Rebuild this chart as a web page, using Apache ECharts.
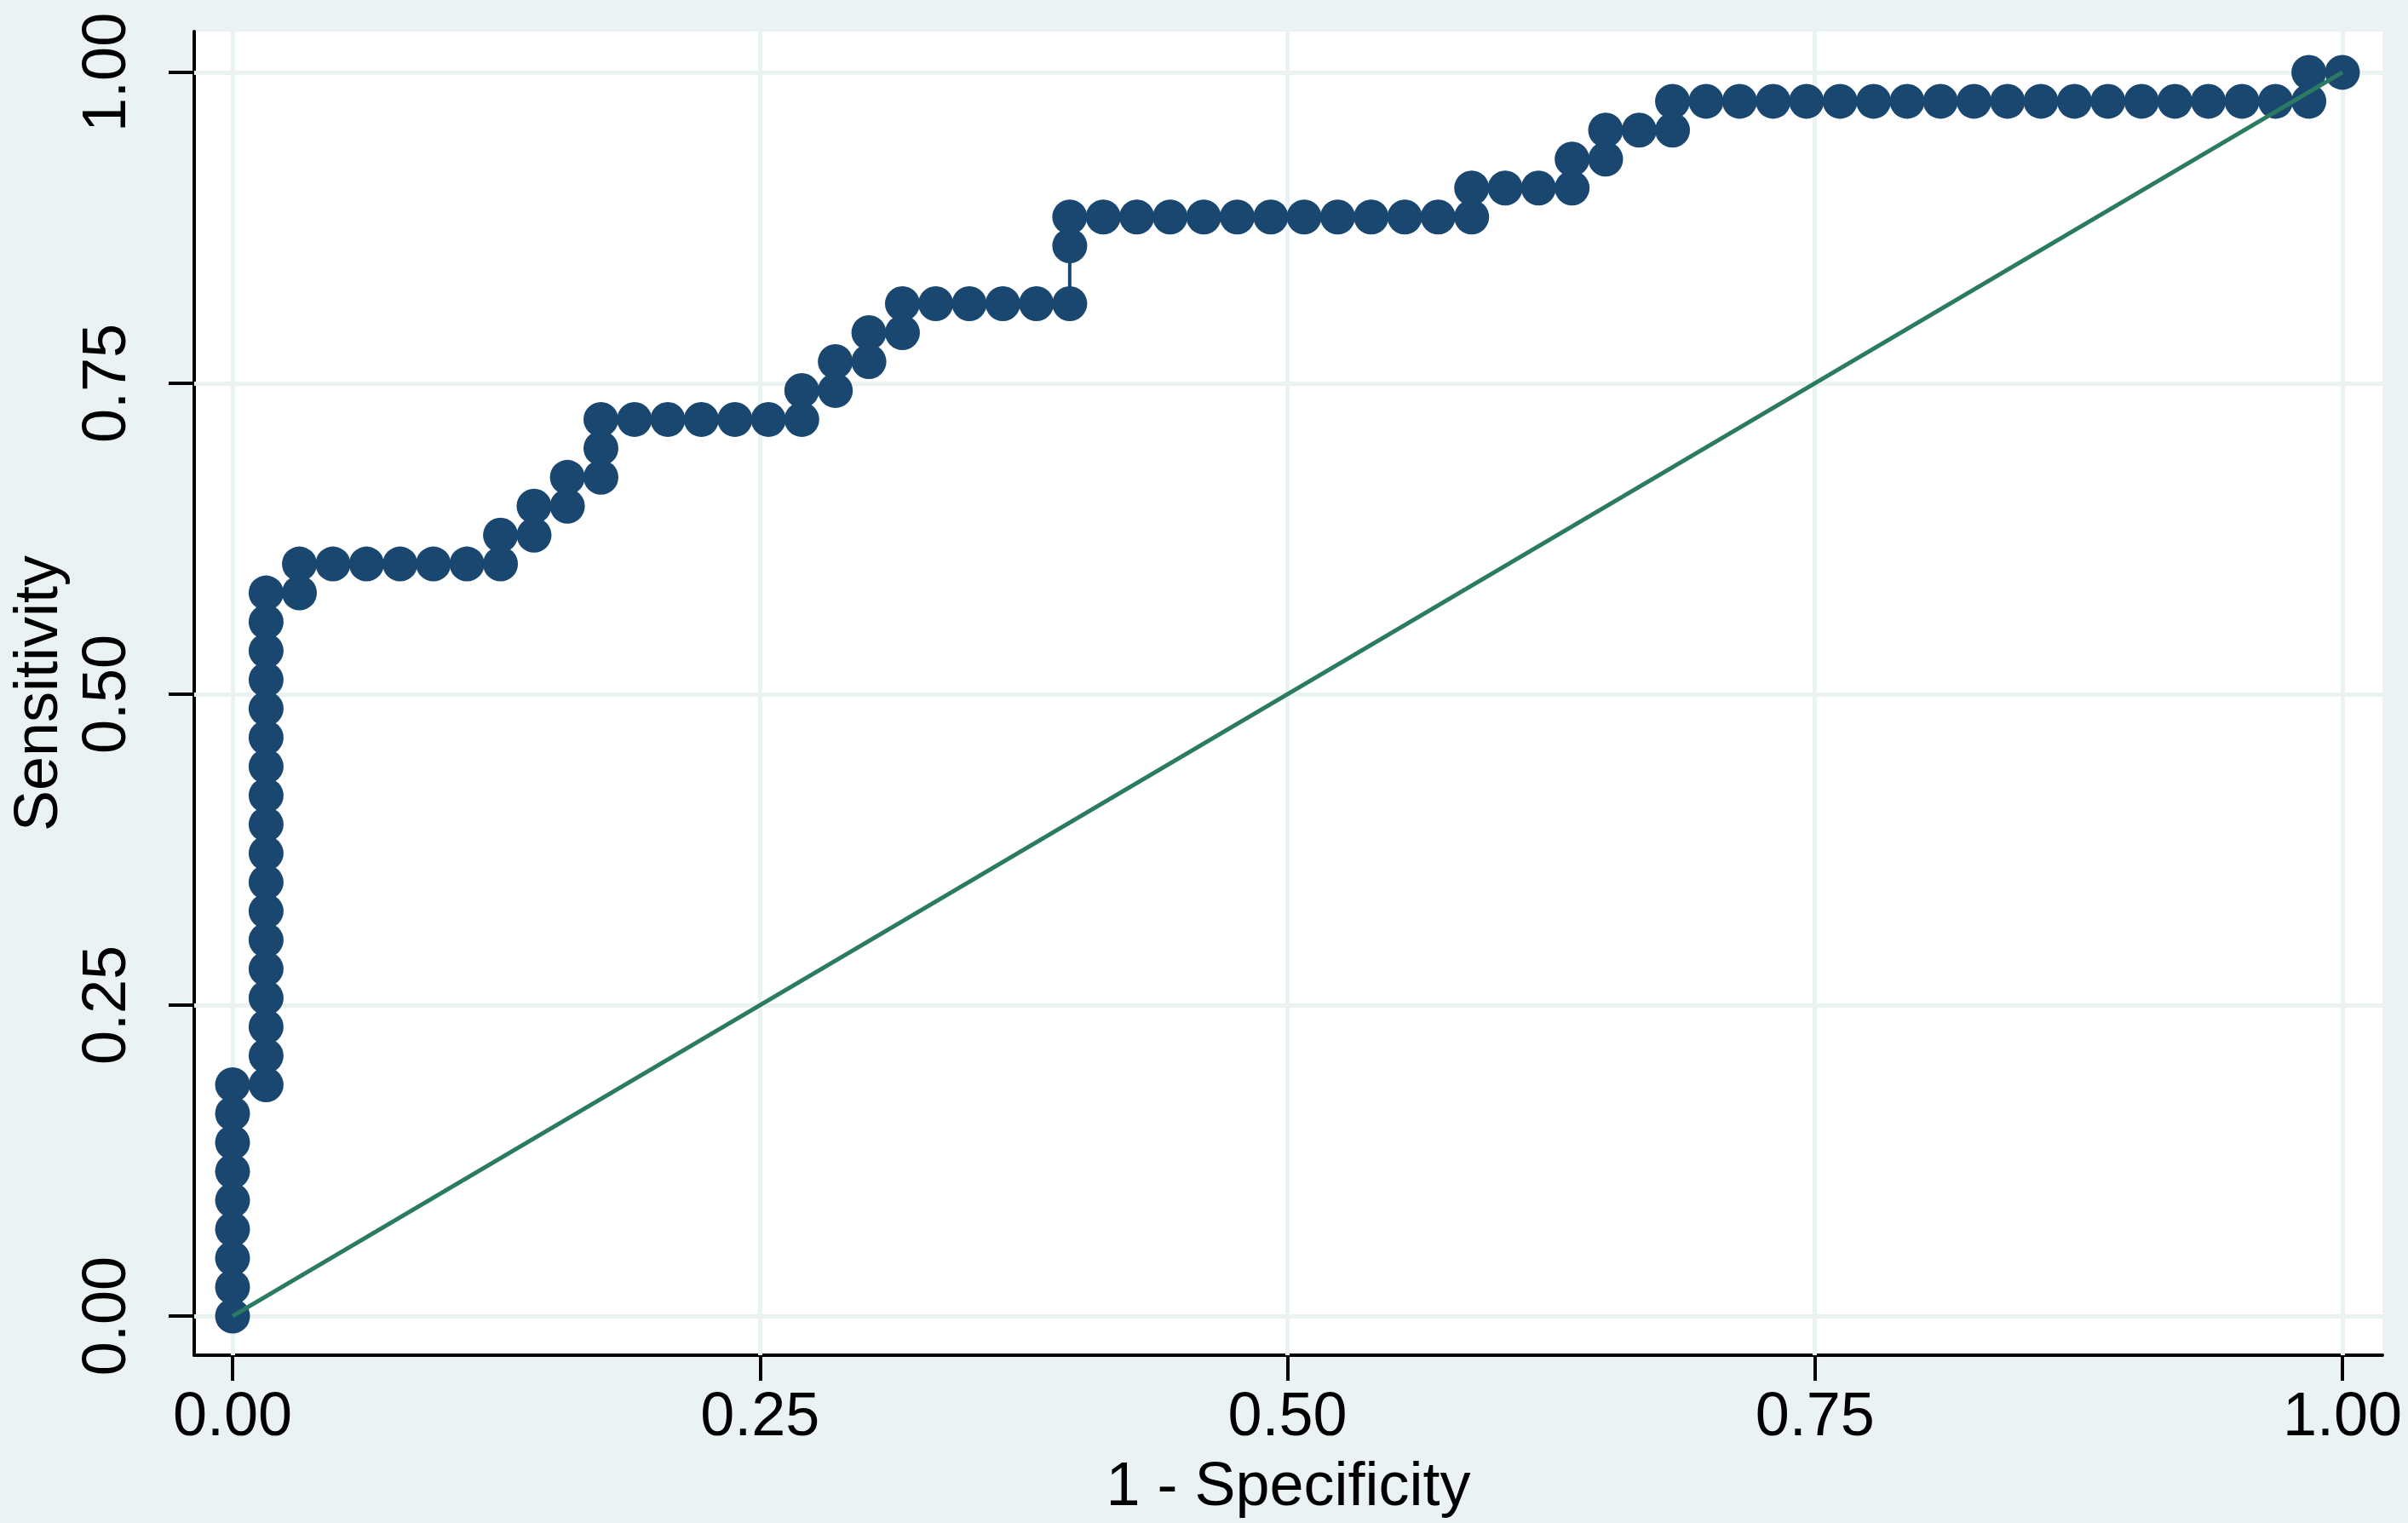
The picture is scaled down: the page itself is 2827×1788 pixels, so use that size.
<!DOCTYPE html>
<html>
<head>
<meta charset="utf-8">
<script src="https://cdn.jsdelivr.net/npm/echarts@6/dist/echarts.min.js"></script>
<style>
  html, body { margin: 0; padding: 0; background: #eaf2f3; }
  #chart { width: 2827px; height: 1788px; }
</style>
</head>
<body>
<div id="chart"></div>
<script>
// 1 - Specificity for each ROC point
const oneMinusSpec = [
  0, 0, 0, 0, 0, 0, 0, 0, 0,
  0.0159, 0.0159, 0.0159, 0.0159, 0.0159, 0.0159, 0.0159, 0.0159, 0.0159,
  0.0159, 0.0159, 0.0159, 0.0159, 0.0159, 0.0159, 0.0159, 0.0159, 0.0159,
  0.0317, 0.0317,
  0.0476, 0.0635, 0.0794, 0.0952, 0.1111,
  0.1270, 0.1270,
  0.1429, 0.1429,
  0.1587, 0.1587,
  0.1746, 0.1746, 0.1746,
  0.1905, 0.2063, 0.2222, 0.2381, 0.2540,
  0.2698, 0.2698,
  0.2857, 0.2857,
  0.3016, 0.3016,
  0.3175, 0.3175,
  0.3333, 0.3492, 0.3651, 0.3810,
  0.3968, 0.3968, 0.3968,
  0.4127, 0.4286, 0.4444, 0.4603, 0.4762, 0.4921, 0.5079, 0.5238, 0.5397, 0.5556, 0.5714,
  0.5873, 0.5873,
  0.6032, 0.6190,
  0.6349, 0.6349,
  0.6508, 0.6508,
  0.6667,
  0.6825, 0.6825,
  0.6984, 0.7143, 0.7302, 0.7460, 0.7619, 0.7778, 0.7937, 0.8095, 0.8254,
  0.8413, 0.8571, 0.8730, 0.8889, 0.9048, 0.9206, 0.9365, 0.9524, 0.9683,
  0.9841, 0.9841,
  1
];
// Sensitivity for each ROC point
const sensitivity = [
  0, 0.0233, 0.0465, 0.0698, 0.0930, 0.1163, 0.1395, 0.1628, 0.1860,
  0.1860, 0.2093, 0.2326, 0.2558, 0.2791, 0.3023, 0.3256, 0.3488, 0.3721,
  0.3953, 0.4186, 0.4419, 0.4651, 0.4884, 0.5116, 0.5349, 0.5581, 0.5814,
  0.5814, 0.6047,
  0.6047, 0.6047, 0.6047, 0.6047, 0.6047,
  0.6047, 0.6279,
  0.6279, 0.6512,
  0.6512, 0.6744,
  0.6744, 0.6977, 0.7209,
  0.7209, 0.7209, 0.7209, 0.7209, 0.7209,
  0.7209, 0.7442,
  0.7442, 0.7674,
  0.7674, 0.7907,
  0.7907, 0.8140,
  0.8140, 0.8140, 0.8140, 0.8140,
  0.8140, 0.8605, 0.8837,
  0.8837, 0.8837, 0.8837, 0.8837, 0.8837, 0.8837, 0.8837, 0.8837, 0.8837, 0.8837, 0.8837,
  0.8837, 0.9070,
  0.9070, 0.9070,
  0.9070, 0.9302,
  0.9302, 0.9535,
  0.9535,
  0.9535, 0.9767,
  0.9767, 0.9767, 0.9767, 0.9767, 0.9767, 0.9767, 0.9767, 0.9767, 0.9767,
  0.9767, 0.9767, 0.9767, 0.9767, 0.9767, 0.9767, 0.9767, 0.9767, 0.9767,
  0.9767, 1,
  1
];
// Reference (chance) line
const refX = [0, 1];
const refY = [0, 1];
// Tick values / labels
const tickValues = [0, 0.25, 0.5, 0.75, 1];
const tickLabels = ['0.00', '0.25', '0.50', '0.75', '1.00'];
const xTitle = '1 - Specificity';
const yTitle = 'Sensitivity';

const FONT = '"Liberation Sans", Arial, Helvetica, sans-serif';
const NAVY = '#1a476f';
const GREEN = '#2b7a62';
const GRID = '#eaf2f2';

const labelFmt = v => {
  const i = tickValues.findIndex(t => Math.abs(t - v) < 1e-9);
  return i >= 0 ? tickLabels[i] : '';
};

const chart = echarts.init(document.getElementById('chart'), null, { renderer: 'canvas' });
chart.setOption({
  animation: false,
  backgroundColor: '#eaf2f3',
  grid: {
    left: 228, right: 30, top: 37, bottom: 195,
    show: true, backgroundColor: '#ffffff', borderWidth: 0
  },
  xAxis: {
    type: 'value',
    min: -0.01817, max: 1.01898,
    name: xTitle, nameLocation: 'middle', nameGap: 120,
    nameTextStyle: { fontFamily: FONT, fontSize: 72, color: '#000' },
    axisLine: { onZero: false, lineStyle: { color: '#000', width: 4 } },
    axisTick: { customValues: tickValues, length: 30, lineStyle: { color: '#000', width: 4 } },
    axisLabel: { customValues: tickValues, formatter: labelFmt, fontFamily: FONT, fontSize: 72, color: '#000', margin: 38 },
    splitLine: { show: false }
  },
  yAxis: {
    type: 'value',
    min: -0.03146, max: 1.0328,
    name: yTitle, nameLocation: 'middle', nameGap: 139,
    nameTextStyle: { fontFamily: FONT, fontSize: 72, color: '#000' },
    axisLine: { onZero: false, lineStyle: { color: '#000', width: 4 } },
    axisTick: { customValues: tickValues, length: 30, lineStyle: { color: '#000', width: 4 } },
    axisLabel: { customValues: tickValues, formatter: labelFmt, rotate: 90, fontFamily: FONT, fontSize: 72, color: '#000', margin: 65 },
    splitLine: { show: false }
  },
  series: [
    {
      type: 'line', data: [], z: 1, silent: true,
      markLine: {
        z: 1, zlevel: 0,
        silent: true, symbol: ['none', 'none'], label: { show: false },
        lineStyle: { color: GRID, width: 5, type: 'solid' },
        data: tickValues.map(v => ({ xAxis: v })).concat(tickValues.map(v => ({ yAxis: v })))
      }
    },
    {
      type: 'line', z: 3,
      data: oneMinusSpec.map((x, i) => [x, sensitivity[i]]),
      showSymbol: true, showAllSymbol: true,
      symbol: 'circle', symbolSize: 41,
      itemStyle: { color: NAVY },
      lineStyle: { color: NAVY, width: 4 }
    },
    {
      type: 'line', z: 4,
      data: refX.map((x, i) => [x, refY[i]]),
      showSymbol: false,
      lineStyle: { color: GREEN, width: 5 }
    }
  ]
});
</script>
</body>
</html>
